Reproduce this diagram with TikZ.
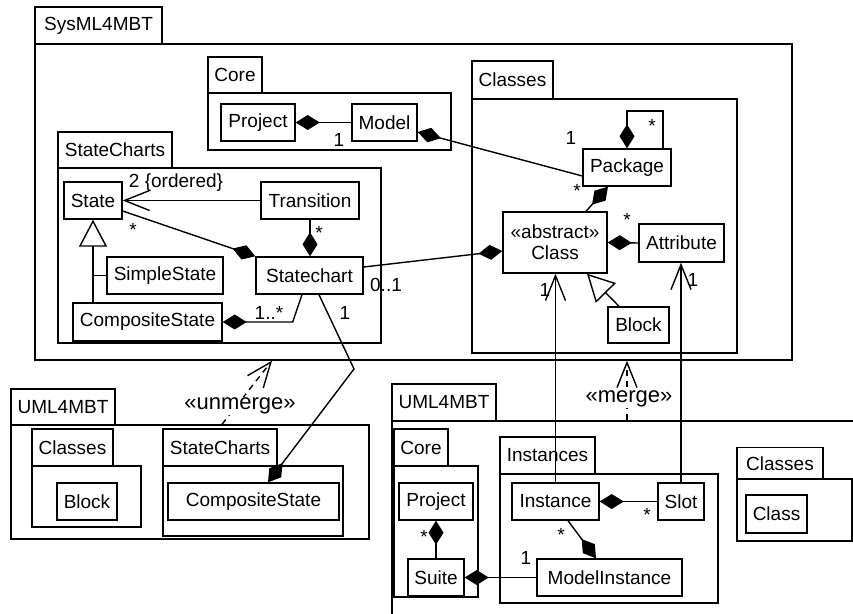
\documentclass[tikz,border=0pt]{standalone}
\usepackage{fontspec}
\setmainfont{Liberation Sans}
\usetikzlibrary{arrows.meta}
\newcommand\diafont{\fontsize{19}{21}\selectfont}
\newcommand\stereofont{\fontsize{22}{24}\selectfont}
\begin{document}
\begin{tikzpicture}[x=1pt,y=-1pt,line width=1.4pt,
  box/.style={draw,inner sep=0pt,font=\diafont,align=center},
  lbl/.style={inner sep=0pt,font=\diafont},
  stereo/.style={inner sep=1pt,fill=white,font=\stereofont},
  comp/.style={{Diamond[length=24pt,width=15pt]}-},
  compE/.style={-{Diamond[length=24pt,width=15pt]}},
  gen/.style={-{Triangle[open,length=27pt,width=28pt]}},
  nav/.style={-{Straight Barb[length=25pt,width=20pt]}},
  dep/.style={dash pattern=on 6pt off 5pt,-{Straight Barb[length=25pt,width=20pt]}}]
\useasboundingbox (0,0) rectangle (853,613);
\clip (0,0) rectangle (853,613);
% SysML4MBT
\node[box,minimum width=127pt,minimum height=37pt] (systab) at (98.5,25.5) {SysML4MBT};
\node[box,minimum width=757pt,minimum height=316pt] (sysbody) at (413.5,202) {};
% Core
\node[box,minimum width=54pt,minimum height=36pt] (coretab) at (235,75) {Core};
\node[box,minimum width=243pt,minimum height=57pt] (corebody) at (329.5,121.5) {};
\node[box,minimum width=74pt,minimum height=37pt] (project) at (258,122.5) {Project};
\node[box,minimum width=65pt,minimum height=37pt] (model) at (384.5,122.5) {Model};
% Classes
\node[box,minimum width=81pt,minimum height=38pt] (clstab) at (512.5,80) {Classes};
\node[box,minimum width=265pt,minimum height=254pt] (clsbody) at (604.5,226) {};
\node[box,minimum width=88pt,minimum height=37pt] (package) at (627,167.5) {Package};
\node[box,minimum width=104pt,minimum height=61pt] (class) at (555,242.5) {«abstract»\\Class};
\node[box,minimum width=85pt,minimum height=38pt] (attribute) at (681.5,243) {Attribute};
\node[box,minimum width=61pt,minimum height=36pt] (block) at (638.5,325) {Block};
% StateCharts
\node[box,minimum width=114pt,minimum height=36pt] (sctab) at (115,150) {StateCharts};
\node[box,minimum width=323pt,minimum height=175pt] (scbody) at (219.5,255.5) {};
\node[box,minimum width=58pt,minimum height=37pt] (state) at (93,200.5) {State};
\node[box,minimum width=98pt,minimum height=37pt] (transition) at (310,200.5) {Transition};
\node[box,minimum width=107pt,minimum height=37pt] (statechart) at (309.5,275.5) {Statechart};
\node[box,minimum width=116pt,minimum height=37pt] (simplestate) at (165,275.5) {SimpleState};
\node[box,minimum width=149pt,minimum height=38pt] (compositeA) at (147.5,322) {CompositeState};
% UML4MBT left
\node[box,minimum width=104pt,minimum height=36pt] (umlLtab) at (63,407) {UML4MBT};
\node[box,minimum width=358pt,minimum height=114pt] (umlLbody) at (190,482) {};
\node[box,minimum width=81pt,minimum height=37pt] (clsLtab) at (72.5,447.5) {Classes};
\node[box,minimum width=109pt,minimum height=61pt] (clsLbody) at (86.5,496.5) {};
\node[box,minimum width=60pt,minimum height=37pt] (blockL) at (87,501.5) {Block};
\node[box,minimum width=114pt,minimum height=37pt] (scLtab) at (220,447.5) {StateCharts};
\node[box,minimum width=180pt,minimum height=70pt] (scLbody) at (253,501) {};
\node[box,minimum width=171pt,minimum height=37pt] (compositeB) at (253.5,501.5) {CompositeState};
% UML4MBT right
\node[box,minimum width=104pt,minimum height=37pt] (umlRtab) at (444,402.5) {UML4MBT};
\node[box,minimum width=560pt,minimum height=279pt] (umlRbody) at (672,560.5) {};
\node[box,minimum width=54pt,minimum height=37pt] (coreRtab) at (421,447.5) {Core};
\node[box,minimum width=84pt,minimum height=131pt] (coreRbody) at (436,531.5) {};
\node[box,minimum width=74pt,minimum height=37pt] (projectR) at (436,501.5) {Project};
\node[box,minimum width=56pt,minimum height=37pt] (suite) at (436,577.5) {Suite};
\node[box,minimum width=95pt,minimum height=37pt] (insttab) at (547.5,455.5) {Instances};
\node[box,minimum width=218pt,minimum height=129pt] (instbody) at (609,538.5) {};
\node[box,minimum width=87pt,minimum height=37pt] (instance) at (555.5,501.5) {Instance};
\node[box,minimum width=46pt,minimum height=37pt] (slot) at (681,501.5) {Slot};
\node[box,minimum width=145pt,minimum height=37pt] (modelinst) at (609.5,577.5) {ModelInstance};
\node[box,minimum width=86pt,minimum height=32pt] (clsRtab) at (780,463.5) {Classes};
\node[box,minimum width=115pt,minimum height=62pt] (clsRbody) at (794.5,510) {};
\node[box,minimum width=61pt,minimum height=38pt] (classR) at (776.5,514) {Class};
% connectors
\draw[comp] (project.east) -- (model.west);
\draw[comp] ([yshift=-9.5pt]model.east) -- ([yshift=-8.5pt]package.west);
\coordinate (pkl) at (663,111);
\draw[comp] (package.north) |- (pkl) -- (pkl |- package.north);
\draw[comp] ([xshift=-19pt]package.south) -- ([xshift=31pt]class.north);
\draw[comp] (class.east) -- (attribute.west);
\draw[comp] ([yshift=-8.5pt]class.west) -- ([yshift=8.5pt]statechart.east);
\draw[gen] ([xshift=-19.5pt]block.north) -- ([xshift=32pt]class.south);
\draw[nav] (instance.north) -- (instance.north |- class.south);
\draw[nav] (slot.north) -- (slot.north |- attribute.south);
\draw[nav] (transition.west) -- (state.east);
\draw[compE] ([yshift=-10.5pt]state.east) -- (statechart.north west);
\draw[compE] (transition.south) -- (transition.south |- statechart.north);
\draw[gen] ([xshift=-54.5pt]compositeA.north) -- (state.south);
\draw (simplestate.west) -- ++(-14,0);
\draw[comp] (compositeA.east) -- ++(70,0) -- ([xshift=-7.5pt]statechart.south);
\coordinate (bend) at (354,369);
\draw[compE] ([xshift=9.5pt]statechart.south) -- (bend) -- ([xshift=14.5pt]compositeB.north);
\draw[compE] (suite.north) -- (projectR.south);
\draw[compE] (slot.west) -- (instance.east);
\draw[compE] ([xshift=12.5pt]instance.south) -- ([xshift=-13.5pt]modelinst.north);
\draw[comp] (suite.east) -- (modelinst.west);
\draw[dep] ([xshift=32pt]umlLbody.north) -- ([xshift=-141.5pt]sysbody.south);
\draw[dep] ([xshift=-45pt]umlRbody.north) -- ([xshift=213.5pt]sysbody.south);
% labels
\node[stereo] (unmerge) at (240,406) {«unmerge»};
\node[stereo] (merge) at (629,398.5) {«merge»};
\node[lbl] (m1) at (339,140) {1};
\node[lbl] (m2) at (571,138) {1};
\node[lbl] (m3) at (652,126) {*};
\node[lbl] (m4) at (577,191) {*};
\node[lbl] (m5) at (627,220) {*};
\node[lbl] (m6) at (386,285) {0..1};
\node[lbl] (m7) at (545,290) {1};
\node[lbl] (m8) at (693,280) {1};
\node[lbl] (m9) at (176,183) {2 \{ordered\}};
\node[lbl] (m10) at (133,230) {*};
\node[lbl] (m11) at (319,233) {*};
\node[lbl] (m12) at (269,313) {1..*};
\node[lbl] (m13) at (345,313) {1};
\node[lbl] (m14) at (424,537) {*};
\node[lbl] (m15) at (647,515) {*};
\node[lbl] (m16) at (561,535) {*};
\node[lbl] (m17) at (526,558) {1};
\end{tikzpicture}
\end{document}
